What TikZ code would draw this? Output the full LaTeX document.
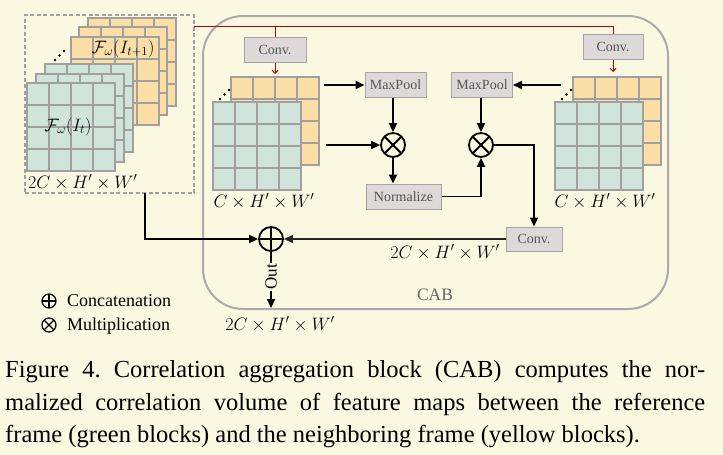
\RequirePackage{fix-cm}
\documentclass[tikz,border=0pt]{standalone}
\usepackage{fontspec}
\setmainfont{Liberation Serif}
\usetikzlibrary{arrows.meta}
\frenchspacing
\definecolor{bg}{RGB}{250,248,224}
\definecolor{gfill}{RGB}{208,228,220}
\definecolor{yfill}{RGB}{250,222,166}
\definecolor{gridc}{RGB}{160,160,160}
\definecolor{boxfill}{RGB}{221,217,216}
\definecolor{boxline}{RGB}{165,165,165}
\definecolor{cabline}{RGB}{170,170,170}
\definecolor{redl}{RGB}{192,0,0}
\definecolor{txtgray}{RGB}{85,85,85}
\newcommand\mylayer[3]{%
  \draw[gridc,line width=1.1pt,fill=#3] (#1,#2) rectangle ++(88,88);
  \foreach \k in {22,44,66}{%
    \draw[gridc,line width=1.1pt] (#1+\k,#2) -- ++(0,88);
    \draw[gridc,line width=1.1pt] (#1,#2+\k) -- ++(88,0);
  }%
}
\newcommand\mydots[3]{%
  \fill (#1,#2) circle (1.3) (#1+4.5,#2-4.5) circle (1.3) (#1+9,#2-9) circle (1.3);
}
\tikzset{
  opbox/.style={draw=boxline, fill=boxfill, line width=1pt, text=txtgray,
    font=\fontsize{14}{16}\selectfont, inner sep=0, minimum height=25},
  arr/.style={line width=1.8pt, -{Triangle[length=9pt,width=8pt]}},
  thinarr/.style={line width=1.1pt, black!85, -{Triangle[length=9pt,width=8pt]}},
  redarr/.style={redl, line width=0.9pt, -{Straight Barb[length=3pt,width=6pt]}},
  mult/.style={circle, draw, line width=1.8pt, minimum size=24, inner sep=0,
    path picture={\draw[line width=1.8pt]
      (path picture bounding box.south west) -- (path picture bounding box.north east)
      (path picture bounding box.north west) -- (path picture bounding box.south east);}},
  plusop/.style={circle, draw, line width=1.8pt, minimum size=24, inner sep=0,
    path picture={\draw[line width=1.8pt]
      (path picture bounding box.south) -- (path picture bounding box.north)
      (path picture bounding box.west) -- (path picture bounding box.east);}},
  legsym/.style={minimum size=14, line width=1.2pt,
    path picture={\draw[line width=1.2pt]
      (path picture bounding box.south) -- (path picture bounding box.north)
      (path picture bounding box.west) -- (path picture bounding box.east);}},
  legsymx/.style={minimum size=14, line width=1.2pt,
    path picture={\draw[line width=1.2pt]
      (path picture bounding box.south west) -- (path picture bounding box.north east)
      (path picture bounding box.north west) -- (path picture bounding box.south east);}},
  mathlab/.style={inner sep=0, font=\fontsize{18}{20}\selectfont},
  capline/.style={inner sep=0, anchor=base west, font=\fontsize{24.5}{33}\selectfont},
  legtext/.style={inner sep=0, anchor=base west, font=\fontsize{18}{20}\selectfont},
}
\begin{document}
\begin{tikzpicture}[x=1pt,y=-1pt]
\useasboundingbox[fill=bg] (0,0) rectangle (723,455);

% CAB frame
\node[draw=cabline, line width=2pt, rounded corners=40pt, minimum width=465,
  minimum height=293, inner sep=0] (cab) at (435.5,162.5) {};
\node[text=black!60, inner sep=0, anchor=base, font=\fontsize{17.5}{20}\selectfont] (cabl) at (435,300) {CAB};

% input dashed box
\node[draw=gridc, dash pattern=on 4pt off 2.5pt, line width=1.4pt, minimum width=169,
  minimum height=178, inner sep=0] (inbox) at (109.5,104) {};

% left stack
\mylayer{88}{18}{yfill}
\mylayer{79}{27}{yfill}
\mylayer{71}{37}{yfill}
\mylayer{45}{64}{gfill}
\mylayer{36}{74}{gfill}
\mylayer{27}{83}{gfill}
\mydots{55}{60}{}
\node[mathlab, anchor=base] (fl1) at (123,53) {$\mathcal{F}_{\omega}(I_{t+1})$};
\node[mathlab, anchor=base] (fl0) at (68,131) {$\mathcal{F}_{\omega}(I_{t})$};
\node[mathlab, anchor=base west] (dimin) at (28,188) {$2C\times H'\times W'$};

% middle-left stack
\mylayer{231}{77}{yfill}
\mylayer{213}{102}{gfill}
\mydots{220}{99}{}
\node[mathlab, anchor=base] (dimL) at (264,207) {$C\times H'\times W'$};

% right stack
\mylayer{573}{77}{yfill}
\mylayer{555}{102}{gfill}
\mydots{562}{99}{}
\node[mathlab, anchor=base] (dimR) at (605,207) {$C\times H'\times W'$};

% operator boxes
\node[opbox, minimum width=62] (convL) at (275,49.5) {Conv.};
\node[opbox, minimum width=60] (convR) at (613,46.5) {Conv.};
\node[opbox, minimum width=61] (mpL) at (395.5,84.5) {MaxPool};
\node[opbox, minimum width=61] (mpR) at (482,84.5) {MaxPool};
\node[opbox, minimum width=75] (norm) at (403.5,196.5) {Normalize};
\node[opbox, minimum width=56, minimum height=24] (convB) at (534,239) {Conv.};

\node[mult] (mulL) at (393,145) {};
\node[mult] (mulR) at (481,145) {};
\node[plusop] (cat) at (271,239) {};

% coordinates
\coordinate (redT) at (194,26);
\coordinate (topL) at (275,74);
\coordinate (topR) at (613,72);
\coordinate (srcLy) at (324,85);
\coordinate (srcLg) at (326,145);
\coordinate (srcRy) at (561,85);
\coordinate (inbot) at (145,193);
\coordinate (outend) at (271,308);

% red lines
\draw[redl, line width=0.9pt] (redT) -- (convR.north |- redT) -- (convR.north);
\draw[redl, line width=0.9pt] (convL.north |- redT) -- (convL.north);
\draw[redarr] (convL.south) -- (topL);
\draw[redarr] (convR.south) -- (topR);

% black arrows
\draw[arr] (srcLy) -- (mpL.west |- srcLy);
\draw[arr] (srcLg) -- (mulL.west);
\draw[arr] (mulL.north |- mpL.south) -- (mulL.north);
\draw[arr] (mulL.south) -- (mulL.south |- norm.north);
\draw[arr] (norm.east) -| (mulR.south);
\draw[arr] (mulR.north |- mpR.south) -- (mulR.north);
\draw[arr] (srcRy) -- (mpR.east |- srcRy);
\draw[arr] (mulR.east) -| (convB.north);
\draw[thinarr] (convB.west) -- (cat.east);
\draw[arr] (inbot) |- (cat.west);
\draw[arr] (cat.south) -- (outend);
\node[fill=bg, rotate=90, inner sep=1pt, font=\fontsize{17}{18}\selectfont] (outl) at (271,277) {Out};

\node[mathlab, anchor=base] (dimB) at (445,258) {$2C\times H'\times W'$};
\node[mathlab, anchor=base] (dimO) at (280,330) {$2C\times H'\times W'$};

% legend
\node[circle, draw, inner sep=0, legsym] (legp) at (49,301) {};
\node[legtext] (legpt) at (67,306) {Concatenation};
\node[circle, draw, inner sep=0, legsymx] (legm) at (49,325) {};
\node[legtext] (legmt) at (67,330) {Multiplication};

% caption
\node[capline] (cap1) at (5,377) {\makebox[700pt][s]{Figure 4. Correlation aggregation block (CAB) computes the nor-}};
\node[capline] (cap2) at (5,410) {\makebox[700pt][s]{malized correlation volume of feature maps between the reference}};
\node[capline] (cap3) at (5,442) {frame (green blocks) and the neighboring frame (yellow blocks).};
\end{tikzpicture}
\end{document}
